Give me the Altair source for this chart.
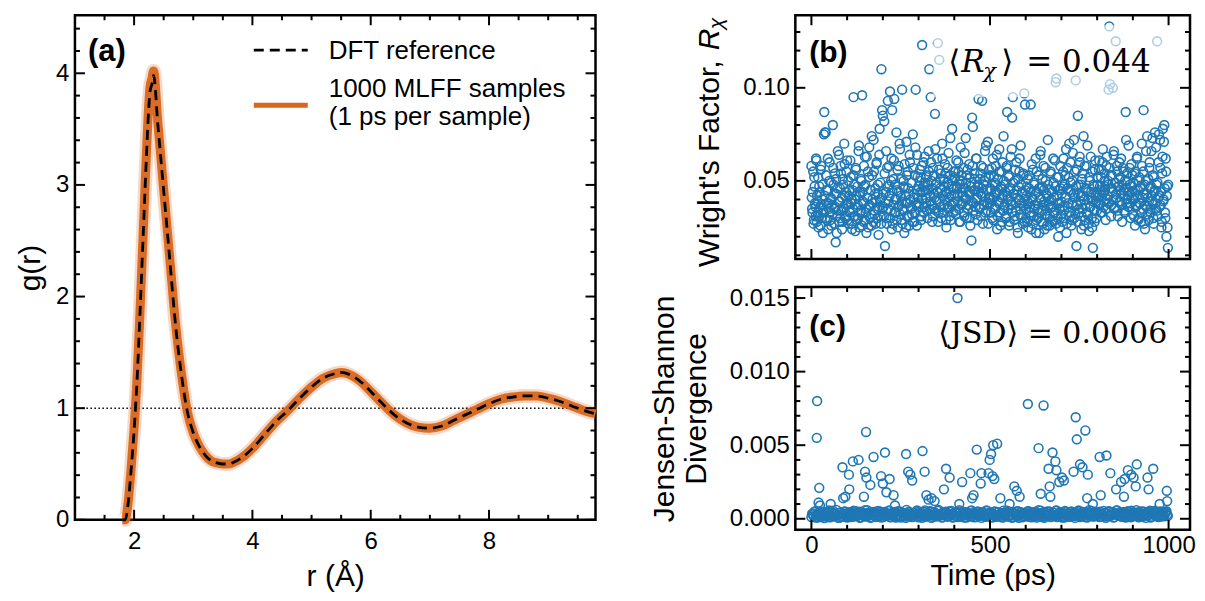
import altair as alt
import pandas as pd

FONT = "Liberation Sans"
SERIF = "DejaVu Serif"
BLUE = "#1f77b4"
ORANGE = "#d9661c"

# ---------------- panel (a): g(r) ----------------
r_vals = [1.8, 1.85, 1.9, 1.95, 2.0, 2.05, 2.1, 2.15, 2.2, 2.25,
          2.27, 2.3, 2.33, 2.4, 2.5, 2.6, 2.7, 2.8, 2.9, 3.0, 3.1, 3.2, 3.3, 3.4, 3.5,
          3.6, 3.7, 3.8, 3.9, 4.0, 4.2, 4.4, 4.6, 4.8, 5.0, 5.2, 5.4, 5.5, 5.6, 5.8,
          6.0, 6.2, 6.4, 6.6, 6.8, 7.0, 7.2, 7.4, 7.6, 7.8, 8.0, 8.2, 8.4, 8.6, 8.8,
          9.0, 9.2, 9.4, 9.6, 9.8]
g_dft = [0.0, 0.0, 0.15, 0.45, 0.8, 1.25, 1.85, 2.5, 3.15, 3.7,
         3.84, 3.9, 3.98, 3.55, 2.95, 2.35, 1.75, 1.3, 0.97, 0.78, 0.66, 0.58, 0.53, 0.51, 0.50,
         0.50, 0.52, 0.55, 0.59, 0.64, 0.76, 0.88, 0.98, 1.09, 1.19, 1.27, 1.31, 1.32, 1.31, 1.25,
         1.15, 1.04, 0.94, 0.87, 0.83, 0.82, 0.84, 0.89, 0.94, 0.99, 1.04, 1.08, 1.10, 1.11, 1.11,
         1.09, 1.06, 1.02, 0.98, 0.95]
g_mlff = [0.0, 0.0, 0.16, 0.46, 0.82, 1.27, 1.87, 2.52, 3.18, 3.74,
          3.88, 3.95, 4.02, 3.57, 2.96, 2.36, 1.76, 1.31, 0.97, 0.78, 0.66, 0.58, 0.53, 0.51, 0.50,
          0.50, 0.52, 0.55, 0.59, 0.64, 0.76, 0.88, 0.98, 1.09, 1.19, 1.27, 1.31, 1.32, 1.31, 1.25,
          1.15, 1.04, 0.94, 0.87, 0.83, 0.82, 0.84, 0.89, 0.94, 0.99, 1.04, 1.08, 1.10, 1.11, 1.11,
          1.09, 1.06, 1.02, 0.98, 0.95]
a_xticks = [2, 4, 6, 8]
a_yticks = [0, 1, 2, 3, 4]

# ---------------- panel (b): Wright's factor (x 1e-3) ----------------
# even picoseconds 0, 2, ..., 998
rchi_even = [
    58, 35, 44, 27, 52, 38, 31, 61, 42, 33, 25, 47, 36, 56, 30, 40, 22, 34, 87, 76,
    76, 45, 29, 62, 38, 50, 33, 41, 26, 37, 80, 48, 35, 54, 17, 43, 31, 66, 39, 28,
    46, 58, 34, 24, 51, 36, 70, 42, 30, 55,
    61, 38, 27, 45, 33, 52, 40, 24, 35, 95, 48, 31, 57, 42, 29, 37, 66, 25, 44, 34,
    50, 96, 39, 28, 47, 63, 33, 22, 41, 55, 36, 68, 30, 45, 26, 53, 38, 72, 32, 43,
    27, 59, 35, 48, 21, 64, 40, 31, 110, 88,
    85, 36, 82, 15, 44, 30, 57, 93, 39, 48, 98, 34, 62, 88, 27, 51, 94, 40, 33, 76,
    45, 25, 58, 37, 67, 42, 29, 99, 35, 50, 22, 46, 38, 71, 31, 55, 43, 26, 60, 36,
    49, 32, 75, 41, 28, 53, 99, 37, 64, 45,
    47, 38, 56, 52, 31, 123, 44, 60, 36, 49, 41, 53, 34, 45, 66, 110, 39, 95, 50, 28,
    57, 43, 35, 86, 48, 40, 62, 124, 33, 115, 46, 54, 30, 70, 42, 51, 37, 59, 44, 25,
    49, 36, 65, 41, 53, 29, 47, 78, 38, 55,
    43, 52, 34, 61, 46, 39, 55, 28, 48, 68, 37, 50, 42, 57, 31, 46, 73, 40, 53, 35,
    44, 59, 30, 49, 18, 84, 79, 38, 54, 45, 32, 62, 41, 47, 94, 36, 51, 43, 58, 93,
    27, 48, 39, 66, 52, 34, 45, 71, 40, 56,
    38, 53, 45, 30, 62, 41, 49, 35, 58, 44, 24, 51, 39, 67, 33, 46, 55, 28, 42, 74,
    36, 48, 31, 57, 87, 40, 52, 26, 45, 63, 37, 84, 95, 43, 29, 50, 34, 60, 41, 22,
    47, 55, 32, 69, 38, 44, 27, 53, 97, 91,
    35, 42, 28, 51, 38, 46, 33, 91, 24, 40, 56, 31, 48, 37, 62, 29, 44, 35, 53, 22,
    41, 66, 34, 47, 27, 58, 39, 32, 50, 43, 26, 72, 37, 45, 31, 55, 40, 28, 36, 49,
    33, 61, 103, 105, 42, 30, 52, 38, 25, 46,
    39, 28, 47, 62, 34, 53, 41, 22, 57, 36, 45, 70, 31, 49, 26, 38, 65, 43, 30, 55,
    104, 15, 37, 85, 48, 33, 60, 42, 24, 51, 35, 74, 40, 29, 46, 58, 32, 44, 27, 52,
    36, 63, 41, 25, 14, 48, 34, 56, 39, 30,
    44, 52, 38, 61, 47, 33, 56, 42, 67, 36, 50, 45, 29, 58, 40, 48, 99, 133, 102, 53,
    37, 46, 100, 64, 35, 49, 125, 41, 55, 31, 47, 60, 39, 52, 43, 28, 57, 45, 34, 50,
    87, 38, 54, 42, 69, 36, 48, 30, 59, 44,
    32, 49, 41, 26, 55, 37, 63, 45, 30, 52, 38, 47, 28, 58, 35, 88, 43, 24, 50, 36,
    74, 41, 29, 57, 46, 33, 66, 39, 53, 27, 44, 76, 35, 48, 125, 31, 60, 42, 72, 37,
    25, 54, 78, 40, 80, 33, 62, 20, 47, 14,
]
# odd picoseconds 1, 3, ..., 999
rchi_odd = [
    41, 33, 55, 29, 47, 36, 62, 28, 39, 52, 31, 44, 26, 58, 37, 48, 33, 75, 42, 30,
    53, 38, 45, 24, 35, 60, 29, 49, 40, 32, 57, 27, 43, 36, 51, 22, 46, 34, 64, 39,
    30, 54, 41, 28, 48, 35, 59, 31, 44, 37,
    29, 50, 42, 34, 61, 38, 27, 45, 53, 31, 40, 23, 56, 36, 47, 30, 69, 42, 33, 51,
    26, 44, 38, 58, 29, 48, 35, 63, 41, 25, 52, 37, 45, 32, 74, 40, 28, 55, 34, 46,
    39, 60, 30, 43, 36, 78, 49, 27, 41, 35,
    43, 31, 54, 38, 66, 27, 47, 35, 58, 42, 30, 50, 24, 45, 37, 61, 33, 48, 40, 29,
    56, 36, 44, 70, 32, 51, 39, 27, 47, 34, 59, 42, 25, 53, 38, 46, 31, 64, 40, 35,
    49, 28, 57, 43, 33, 68, 38, 26, 52, 41,
    36, 50, 44, 29, 58, 40, 47, 33, 63, 45, 38, 52, 30, 48, 55, 35, 42, 60, 37, 46,
    31, 53, 41, 67, 34, 49, 44, 28, 56, 39, 51, 36, 45, 62, 33, 47, 40, 54, 29, 43,
    57, 35, 48, 31, 73, 42, 37, 50, 33, 46,
    39, 55, 32, 47, 42, 60, 35, 50, 28, 44, 53, 38, 46, 33, 65, 41, 49, 30, 56, 37,
    43, 52, 26, 47, 39, 58, 34, 45, 51, 36, 62, 40, 29, 48, 44, 35, 54, 31, 46, 42,
    57, 37, 50, 33, 69, 45, 38, 27, 52, 41,
    46, 33, 57, 40, 29, 52, 36, 48, 43, 64, 31, 45, 38, 55, 26, 47, 41, 60, 34, 50,
    37, 44, 30, 58, 42, 35, 53, 28, 46, 39, 67, 33, 49, 43, 31, 56, 38, 45, 25, 51,
    40, 62, 35, 48, 30, 43, 54, 37, 28, 45,
    30, 47, 39, 25, 53, 36, 44, 31, 59, 41, 27, 49, 35, 43, 22, 55, 38, 30, 46, 33,
    64, 40, 28, 51, 37, 45, 24, 57, 34, 42, 31, 48, 39, 26, 54, 36, 44, 29, 62, 41,
    33, 47, 27, 52, 38, 20, 45, 35, 58, 32,
    43, 36, 55, 30, 48, 41, 67, 27, 46, 38, 52, 33, 60, 44, 29, 50, 37, 72, 41, 32,
    47, 56, 28, 43, 35, 63, 39, 48, 31, 54, 42, 26, 58, 37, 45, 33, 69, 40, 23, 50,
    36, 44, 30, 55, 39, 47, 28, 61, 42, 34,
    48, 41, 56, 37, 45, 52, 33, 60, 44, 39, 54, 47, 35, 63, 42, 50, 38, 57, 46, 31,
    53, 44, 40, 66, 36, 49, 43, 58, 34, 47, 51, 39, 45, 62, 37, 48, 42, 55, 33, 46,
    72, 40, 50, 36, 44, 57, 38, 47, 41, 53,
    40, 31, 54, 45, 36, 62, 42, 29, 50, 38, 46, 33, 70, 41, 55, 27, 48, 37, 66, 43,
    32, 51, 39, 60, 35, 47, 42, 73, 30, 52, 45, 38, 68, 34, 49, 41, 75, 36, 57, 44,
    28, 63, 39, 71, 46, 30, 55, 42, 25, 48,
]

# ---------------- panel (c): JSD ----------------
# near-zero band (x 1e-5), at 0, 4, 8, ... ps
jsd_base_a = [
    12, 30, 45, 8, 22, 38, 15, 50, 27, 5, 33, 19, 42, 10, 28, 55, 17, 36, 24, 6,
    40, 14, 31, 48, 20, 9, 35, 26, 44, 13, 29, 52, 18, 37, 7, 25, 41, 16, 32, 58,
    21, 11, 39, 27, 46, 15, 34, 23, 49, 8,
    30, 43, 18, 26, 54, 12, 37, 21, 45, 9, 33, 28, 50, 16, 40, 24, 7, 35, 47, 19,
    29, 13, 42, 25, 56, 10, 31, 38, 20, 46, 14, 36, 27, 51, 6, 23, 44, 17, 32, 60,
    22, 11, 39, 28, 48, 15, 34, 26, 53, 9,
    27, 41, 12, 35, 50, 19, 30, 8, 44, 23, 38, 15, 57, 28, 10, 36, 46, 21, 32, 6,
    42, 25, 17, 53, 33, 11, 39, 29, 48, 14, 24, 45, 20, 34, 9, 40, 26, 55, 16, 31,
    47, 13, 37, 22, 51, 7, 29, 43, 18, 35,
    16, 38, 52, 24, 10, 33, 45, 20, 29, 58, 13, 40, 27, 7, 36, 49, 22, 31, 15, 43,
    26, 54, 11, 34, 41, 19, 30, 8, 47, 23, 37, 14, 50, 28, 18, 42, 25, 56, 12, 32,
    46, 21, 35, 9, 39, 27, 53, 17, 30, 44,
    21, 34, 48, 13, 29, 40, 7, 36, 52, 18, 26, 45, 11, 33, 57, 23, 38, 15, 42, 28,
    9, 47, 20, 31, 54, 16, 37, 25, 43, 10, 30, 50, 19, 35, 6, 41, 27, 55, 14, 32,
    46, 22, 39, 12, 49, 24, 33, 17, 44, 28,
]
# near-zero band (x 1e-5), at 2, 6, 10, ... ps
jsd_base_b = [
    35, 18, 52, 26, 9, 41, 30, 14, 47, 22, 38, 11, 56, 28, 43, 17, 33, 60, 24, 7,
    45, 31, 15, 50, 36, 21, 44, 12, 29, 54, 19, 39, 27, 48, 10, 34, 23, 58, 16, 42,
    31, 6, 46, 25, 37, 13, 53, 20, 40, 29,
    14, 47, 33, 22, 55, 10, 38, 27, 44, 18, 52, 31, 8, 41, 25, 36, 60, 15, 46, 29,
    12, 39, 23, 50, 34, 19, 43, 7, 30, 57, 21, 37, 26, 49, 13, 42, 32, 17, 54, 24,
    35, 9, 45, 28, 40, 16, 51, 22, 33, 11,
    44, 20, 36, 58, 13, 29, 47, 24, 8, 39, 31, 53, 17, 42, 26, 11, 49, 35, 21, 45,
    30, 14, 56, 37, 23, 41, 9, 32, 50, 18, 43, 27, 12, 38, 55, 22, 33, 15, 46, 28,
    7, 40, 34, 19, 52, 25, 44, 10, 36, 30,
    27, 51, 13, 40, 33, 19, 46, 8, 37, 25, 55, 30, 16, 43, 22, 35, 49, 11, 28, 42,
    18, 57, 31, 24, 45, 9, 38, 53, 20, 34, 14, 47, 29, 41, 6, 36, 23, 50, 17, 39,
    32, 12, 44, 26, 58, 21, 35, 15, 48, 27,
    38, 12, 45, 29, 53, 20, 34, 16, 49, 25, 40, 8, 31, 56, 22, 43, 27, 14, 47, 35,
    19, 52, 30, 10, 41, 24, 37, 58, 18, 44, 32, 13, 50, 26, 39, 21, 46, 9, 35, 28,
    54, 17, 42, 30, 15, 48, 23, 36, 51, 20,
]
# scattered larger values (time ps, JSD)
jsd_out_t = [16, 15, 22, 20, 24, 54, 87, 89, 95, 105, 106, 116, 132, 147, 153, 150, 154,
             165, 174, 195, 200, 206, 210, 219, 230, 234, 265, 271, 277, 282, 311, 317,
             322, 328, 336, 345, 371, 377, 387, 409, 414, 422, 445, 450, 454, 463, 474,
             476, 496, 499, 503, 509, 520, 507, 512, 529, 555, 568, 575, 583, 606, 650,
             636, 642, 667, 669, 675, 683, 664, 686, 694, 702, 707, 740, 743, 767, 734,
             752, 759, 774, 772, 788, 807, 826, 810, 837, 853, 867, 875, 877, 886, 895,
             902, 908, 911, 941, 944, 957, 995, 996, 975]
jsd_out_v = [0.0080, 0.0055, 0.0021, 0.0011, 0.0009, 0.0010, 0.0035, 0.0014, 0.0015,
             0.0030, 0.0020, 0.0039, 0.0040, 0.0015, 0.0059, 0.0032, 0.0028, 0.0023,
             0.0042, 0.0029, 0.0024, 0.0045, 0.0018, 0.0027, 0.0016, 0.0009, 0.0044,
             0.0032, 0.0030, 0.0026, 0.0046, 0.0032, 0.0016, 0.0013, 0.0014, 0.0012,
             0.0020, 0.0034, 0.0028, 0.0150, 0.0010, 0.0025, 0.0031, 0.0014, 0.0016,
             0.0047, 0.0024, 0.0031, 0.0031, 0.0040, 0.0044, 0.0050, 0.0051, 0.0029,
             0.0027, 0.0014, 0.0010, 0.0022, 0.0019, 0.0015, 0.0078, 0.0077, 0.0048,
             0.0017, 0.0022, 0.0015, 0.0045, 0.0039, 0.0034, 0.0033, 0.0025, 0.0028,
             0.0026, 0.0069, 0.0054, 0.0060, 0.0032, 0.0037, 0.0035, 0.0030, 0.0014,
             0.0010, 0.0042, 0.0043, 0.0016, 0.0031, 0.0020, 0.0025, 0.0015, 0.0027,
             0.0033, 0.0030, 0.0028, 0.0022, 0.0037, 0.0028, 0.0020, 0.0034, 0.0019,
             0.0012, 0.0010]

bc_xticks = [0, 500, 1000]
b_yticks = [0.05, 0.10]
c_yticks = [0.0, 0.005, 0.010, 0.015]

# ---------------- helpers ----------------
one = pd.DataFrame({"k": [0]})
LBL = 24
TTL = 30


def tick_layers(xsc, ysc, xax, yax, xmaj, xmin, ymaj, ymin, W, H, L=10, l=5):
    out = []
    for vals, ln in ((xmaj, L), (xmin, l)):
        d = pd.DataFrame({"v": vals})
        m = alt.Chart(d).mark_rule(color="black", strokeWidth=2)
        out.append(m.encode(x=alt.X("v:Q", scale=xsc, axis=xax), y=alt.value(H), y2=alt.value(H - ln)))
        out.append(m.encode(x=alt.X("v:Q", scale=xsc, axis=xax), y=alt.value(0), y2=alt.value(ln)))
    for vals, ln in ((ymaj, L), (ymin, l)):
        d = pd.DataFrame({"v": vals})
        m = alt.Chart(d).mark_rule(color="black", strokeWidth=2)
        out.append(m.encode(y=alt.Y("v:Q", scale=ysc, axis=yax), x=alt.value(0), x2=alt.value(ln)))
        out.append(m.encode(y=alt.Y("v:Q", scale=ysc, axis=yax), x=alt.value(W), x2=alt.value(W - ln)))
    return out


def txt(s, x, y, size, font=FONT, weight="normal", style="normal", align="left",
        baseline="middle", angle=0, color="black"):
    return alt.Chart(one).mark_text(text=s, font=font, fontSize=size, fontWeight=weight,
                                     fontStyle=style, align=align, baseline=baseline,
                                     angle=angle, color=color).encode(
        x=alt.value(x), y=alt.value(y))


def axis(**kw):
    return alt.Axis(grid=False, ticks=False, tickSize=0, domain=False, **kw)


# ---------------- panel (a) ----------------
WA, HA = 521, 505
xa = alt.Scale(domain=[1.0, 9.8], nice=False, zero=False)
ya = alt.Scale(domain=[0, 4.52], nice=False, zero=False)
xa_ax = axis(values=a_xticks, title="r (Å)", labelPadding=10, titlePadding=8)
ya_ax = axis(values=a_yticks, title="g(r)", labelPadding=6, titlePadding=10)
dfa = pd.DataFrame({"r": r_vals, "dft": g_dft, "mlff": g_mlff})

a_halo = alt.Chart(dfa).mark_line(color=ORANGE, strokeWidth=14, opacity=0.25,
                                  interpolate="monotone").encode(
    x=alt.X("r:Q", scale=xa, axis=xa_ax), y=alt.Y("mlff:Q", scale=ya, axis=ya_ax))
a_orange = alt.Chart(dfa).mark_line(color=ORANGE, strokeWidth=9, opacity=0.95,
                                    interpolate="monotone").encode(
    x=alt.X("r:Q", scale=xa, axis=xa_ax), y=alt.Y("mlff:Q", scale=ya, axis=ya_ax))
a_dft = alt.Chart(dfa).mark_line(color="black", strokeWidth=2.8, strokeDash=[10, 6],
                                 interpolate="monotone").encode(
    x=alt.X("r:Q", scale=xa, axis=xa_ax), y=alt.Y("dft:Q", scale=ya, axis=ya_ax))
a_one = alt.Chart(pd.DataFrame({"h": [1.0]})).mark_rule(
    color="black", strokeWidth=1.5, strokeDash=[1.5, 2.5]).encode(
    y=alt.Y("h:Q", scale=ya, axis=ya_ax))

a_minx = [1.5, 2.5, 3, 3.5, 4.5, 5, 5.5, 6.5, 7, 7.5, 8.5, 9, 9.5]
a_miny = [v / 5 for v in range(1, 23) if v % 5 != 0]
leg = [
    alt.Chart(one).mark_rule(color="black", strokeWidth=2.8, strokeDash=[10, 6]).encode(
        x=alt.value(179), x2=alt.value(233), y=alt.value(35)),
    alt.Chart(one).mark_rule(color=ORANGE, strokeWidth=5).encode(
        x=alt.value(179), x2=alt.value(233), y=alt.value(90)),
    txt("DFT reference", 254, 36, 26),
    txt("1000 MLFF samples", 254, 74, 26),
    txt("(1 ps per sample)", 254, 102, 26),
    txt("(a)", 13, 37, 31, weight="bold"),
]
panel_a = alt.layer(a_halo, a_one, a_orange, a_dft,
                    *tick_layers(xa, ya, xa_ax, ya_ax, a_xticks, a_minx, a_yticks, a_miny, WA, HA),
                    *leg).properties(width=WA, height=HA)

# ---------------- panel (b) ----------------
WB, HB = 395, 244
xbc = alt.Scale(domain=[-45, 1060], nice=False, zero=False)
yb = alt.Scale(domain=[0.008, 0.139], nice=False, zero=False)
xb_ax = None
yb_ax = axis(values=b_yticks, format=".2f", title=None, labelPadding=6, minExtent=62, maxExtent=62)
dfb = pd.DataFrame({
    "t": [2 * i for i in range(len(rchi_even))] + [2 * i + 1 for i in range(len(rchi_odd))],
    "r": [v / 1000 for v in rchi_even] + [v / 1000 for v in rchi_odd],
})
b_pts = alt.Chart(dfb).mark_point(shape="circle", filled=False, size=78, strokeWidth=1.6,
                                  color=BLUE, opacity=1).encode(
    x=alt.X("t:Q", scale=xbc, axis=xb_ax), y=alt.Y("r:Q", scale=yb, axis=yb_ax))
bc_minx = [100, 200, 300, 400, 600, 700, 800, 900]
b_miny = [v / 100 for v in range(1, 14) if v not in (5, 10)]
b_box = alt.Chart(one).mark_rect(color="white", opacity=0.65).encode(
    x=alt.value(138), x2=alt.value(372), y=alt.value(10), y2=alt.value(82))
b_text = [
    txt("(b)", 14, 38, 30, weight="bold"),
    txt("⟨", 153, 48, 31, font=SERIF),
    txt("R", 166, 48, 31, font=SERIF, style="italic"),
    txt("χ", 188, 57, 21, font=SERIF, style="italic"),
    txt("⟩", 206, 48, 31, font=SERIF),
    txt("= 0.044", 231, 48, 31, font=SERIF),
    txt("Wright's Factor, ", -85, 252, TTL, angle=270),
    txt("R", -85, 35, TTL, style="italic", angle=270),
    txt("χ", -78, 14, 21, style="italic", angle=270),
]
panel_b = alt.layer(b_pts, b_box,
                    *tick_layers(xbc, yb, xb_ax, yb_ax, bc_xticks, bc_minx, b_yticks, b_miny, WB, HB),
                    *b_text).properties(width=WB, height=HB)

# ---------------- panel (c) ----------------
WC, HC = 395, 243
yc = alt.Scale(domain=[-0.00075, 0.01575], nice=False, zero=False)
xc_ax = axis(values=bc_xticks, format="d", title="Time (ps)", labelPadding=4, titlePadding=3)
yc_ax = axis(values=c_yticks, format=".3f", title=["Jensen-Shannon", "Divergence"],
             labelPadding=6, minExtent=62, maxExtent=62, titlePadding=22, titleLineHeight=32)
dfc = pd.DataFrame({
    "t": [4 * i for i in range(len(jsd_base_a))] + [4 * i + 2 for i in range(len(jsd_base_b))]
         + jsd_out_t,
    "j": [v / 100000 for v in jsd_base_a] + [v / 100000 for v in jsd_base_b] + jsd_out_v,
})
c_pts = alt.Chart(dfc).mark_point(shape="circle", filled=False, size=78, strokeWidth=1.6,
                                  color=BLUE, opacity=1).encode(
    x=alt.X("t:Q", scale=xbc, axis=xc_ax), y=alt.Y("j:Q", scale=yc, axis=yc_ax))
c_miny = [v / 1000 for v in range(1, 16) if v % 5 != 0]
c_text = [
    txt("(c)", 14, 40, 30, weight="bold"),
    txt("⟨JSD⟩ = 0.0006", 143, 47, 30, font=SERIF),
]
panel_c = alt.layer(c_pts,
                    *tick_layers(xbc, yc, xc_ax, yc_ax, bc_xticks, bc_minx, c_yticks, c_miny, WC, HC),
                    *c_text).properties(width=WC, height=HC)

right = alt.vconcat(panel_b, panel_c, spacing=28, bounds="flush")
chart = alt.hconcat(panel_a, right, spacing=200, bounds="flush").configure(
    padding={"left": 6, "top": 4, "right": 0, "bottom": 0}
).configure_view(stroke="black", strokeWidth=2.5).configure_axis(
    labelFont=FONT, titleFont=FONT, labelFontSize=LBL, titleFontSize=TTL,
    labelColor="black", titleColor="black", titleFontWeight="normal")

chart.save("out.html", embed_options={"renderer": "svg", "actions": False})
